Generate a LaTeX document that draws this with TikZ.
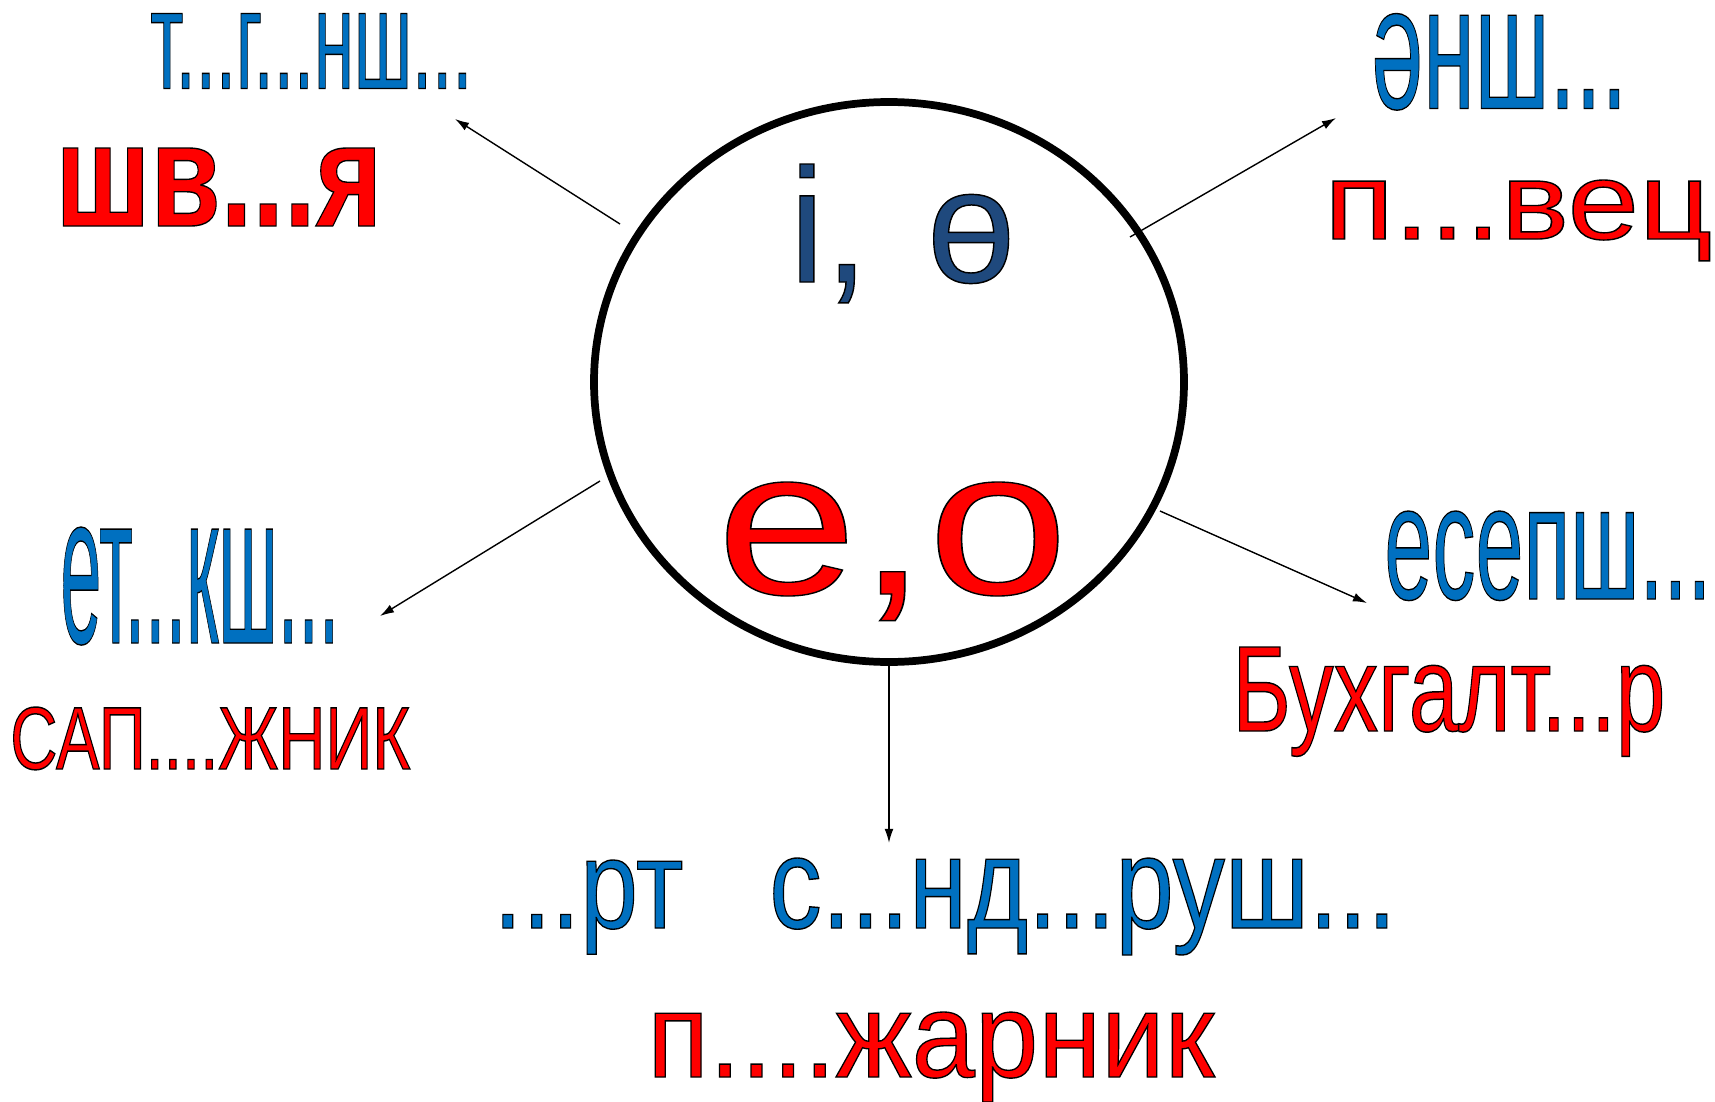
\documentclass[tikz,border=0pt]{standalone}
\usepackage{fontspec}
\setmainfont{Liberation Sans}
\usepackage{graphicx}
\usetikzlibrary{shapes.geometric,arrows.meta}

\definecolor{wblue}{HTML}{0070C0}
\definecolor{wred}{HTML}{FF0000}
\definecolor{wnavy}{HTML}{1F497D}

\newlength\pxu
\setlength\pxu{0.02cm}
% filled letters with a thin black rim
\newcommand\rim[1]{\special{pdf:literal direct 2 Tr 0 G 0.8 w}#1\special{pdf:literal direct 0 Tr}}
\newcommand\fit[3]{\resizebox{#1\pxu}{#2\pxu}{\rim{#3}}}

\tikzset{
  lbl/.style={inner sep=0pt, anchor=base west, font=\fontsize{#1}{#1}\selectfont},
  ptr/.style={-{Latex[length=8pt,width=5pt]}, line width=0.8pt},
}

\begin{document}
\begin{tikzpicture}[x=0.02cm, y=-0.02cm]
    \useasboundingbox (0,0) rectangle (1715,1102);

    % Centre
    \node[ellipse, draw, line width=4.4pt, minimum width=590\pxu, minimum height=560\pxu, inner sep=0pt] (circ) at (889,382) {};
    \node[lbl=90, text=wnavy] (io) at (789,282) {\fit{226}{118}{і,\hspace{0.37em}ө}};
    \node[lbl=121, text=wred] (eo) at (716,594) {\fit{352}{112}{е,о}};

    % Words
    \node[lbl=82, text=wblue] (tgnsh) at (150,88.5) {\fit{322}{75}{т...г...нш...}};
    \node[lbl=85, text=wred] (shvya) at (55,226) {\fit{327}{78}{\bfseries шв...я}};
    \node[lbl=102, text=wblue] (ensh) at (1371,108.5) {\fit{256}{95}{әнш...}};
    \node[lbl=64, text=wred] (pavets) at (1324,239) {\fit{388}{59}{п...вец}};
    \node[lbl=124, text=wblue] (etksh) at (60,643) {\fit{279}{116}{ет...кш...}};
    \node[lbl=49, text=wred] (sapozh) at (10,769) {\fit{400}{62}{САП....ЖНИК}};
    \node[lbl=94, text=wblue] (esepsh) at (1384,599) {\fit{327}{88}{есепш...}};
    \node[lbl=67, text=wred] (buh) at (1232,731) {\fit{433}{84}{Бухгалт...р}};
    \node[lbl=74, text=wblue] (artsnd) at (493,928) {\fit{190}{68}{...рт}\hspace{86\pxu}\fit{627}{70}{с...нд...руш...}};
    \node[lbl=71, text=wred] (pozh) at (647,1077) {\fit{567}{65}{п....жарник}};

    % Arrows
    \coordinate (ulA) at (620,224);
    \coordinate (ulB) at (455,119);
    \coordinate (urA) at (1130,237);
    \coordinate (urB) at (1336,118);
    \coordinate (llA) at (600,481);
    \coordinate (llB) at (380,616);
    \coordinate (lrA) at (1160,511);
    \coordinate (lrB) at (1367,603);
    \coordinate (dn) at (889,843);
    \draw[ptr] (ulA) -- (ulB);
    \draw[ptr] (urA) -- (urB);
    \draw[ptr] (llA) -- (llB);
    \draw[ptr] (lrA) -- (lrB);
    \draw[ptr] (circ.south) -- (dn);
\end{tikzpicture}
\end{document}
